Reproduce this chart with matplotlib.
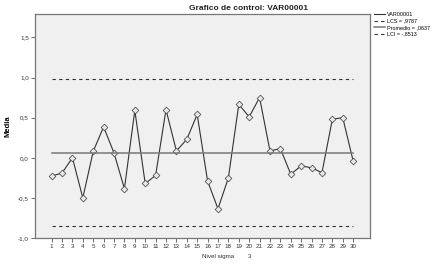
import matplotlib
matplotlib.use("Agg")
import matplotlib.pyplot as plt
import numpy as np

# data
samples = list(range(1, 31))
medias = [-0.227, -0.19, 0.0, -0.50, 0.08, 0.385, 0.06, -0.385, 0.59, -0.32,
          -0.22, 0.60, 0.085, 0.23, 0.54, -0.29, -0.635, -0.25, 0.665, 0.51,
          0.75, 0.085, 0.115, -0.205, -0.10, -0.125, -0.185, 0.48, 0.50, -0.04]
lcs = 0.9787
promedio = 0.0637
lci = -0.8513
yticks = [-1.0, -0.5, 0.0, 0.5, 1.0, 1.5]
ytick_labels = ['-1,0', '-0,5', '0,0', '0,5', '1,0', '1,5']

plt.rcParams['font.family'] = ['Liberation Sans', 'DejaVu Sans']

fig = plt.figure(figsize=(4.32, 2.66), dpi=100)
ax = fig.add_axes([0.081, 0.105, 0.775, 0.842])
ax.set_facecolor('#f0f0f0')

l1, = ax.plot(samples, medias, color='#333333', lw=0.8, marker='D',
              markersize=3.4, markerfacecolor='#e8e8e8',
              markeredgecolor='#555555', markeredgewidth=0.6)
l2, = ax.plot([samples[0], samples[-1]], [lcs, lcs], color='#333333',
              lw=0.8, ls=(0, (3, 3)))
l3, = ax.plot([samples[0], samples[-1]], [promedio, promedio],
              color='#777777', lw=1.1)
l4, = ax.plot([samples[0], samples[-1]], [lci, lci], color='#333333',
              lw=0.8, ls=(0, (3, 3)))

ax.set_xlim(-0.6, 31.6)
ax.set_ylim(-1.0, 1.79)
ax.set_xticks(samples)
ax.set_xticklabels([str(s) for s in samples])
ax.set_yticks(yticks)
ax.set_yticklabels(ytick_labels)
ax.tick_params(labelsize=4.5, length=3, width=0.6, color='#555555',
               labelcolor='#333333', pad=1.5)
for s in ax.spines.values():
    s.set_color('#777777')
    s.set_linewidth(0.9)

ax.set_ylabel('Media', fontsize=5.5, fontweight='bold')
ax.yaxis.set_label_coords(-0.07, 0.5)
fig.text(0.575, 0.968, 'Grafico de control: VAR00001', fontsize=6,
         fontweight='bold', ha='center', va='center', color='#222222')
fig.text(0.505, 0.035, 'Nivel sigma', fontsize=4.5, ha='center',
         va='center', color='#333333')
fig.text(0.578, 0.035, '3', fontsize=4.5, ha='center', va='center',
         color='#333333')

fig.legend([l1, l2, l3, l4],
           ['VAR00001', 'LCS = ,9787', 'Promedio = ,0637', 'LCI = -,8513'],
           loc='upper left', bbox_to_anchor=(0.857, 0.97), frameon=False,
           fontsize=3.9, handlelength=2.0, handletextpad=0.4,
           labelspacing=0.3, borderpad=0.2)
for h in fig.legends[0].legend_handles:
    h.set_marker('')

fig.savefig('out.png', dpi=100)
